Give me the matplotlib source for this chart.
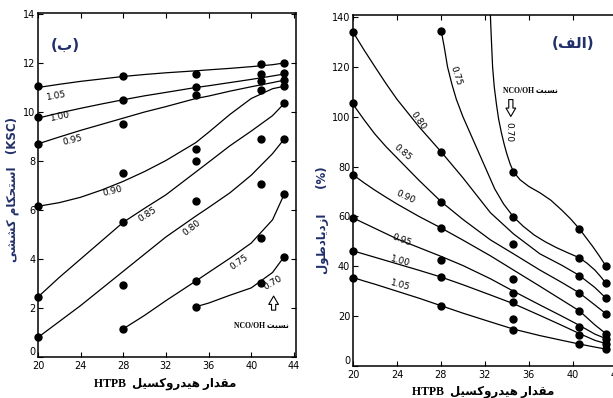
import numpy as np
import matplotlib.pyplot as plt

# --- simple Persian shaping (matplotlib has no complex text layout) ---
FORMS = {
    'ا': ('\uFE8D', '\uFE8E', None, None),
    'ب': ('\uFE8F', '\uFE90', '\uFE91', '\uFE92'),
    'ت': ('\uFE95', '\uFE96', '\uFE97', '\uFE98'),
    'ح': ('\uFEA1', '\uFEA2', '\uFEA3', '\uFEA4'),
    'د': ('\uFEA9', '\uFEAA', None, None),
    'ر': ('\uFEAD', '\uFEAE', None, None),
    'ز': ('\uFEAF', '\uFEB0', None, None),
    'س': ('\uFEB1', '\uFEB2', '\uFEB3', '\uFEB4'),
    'ش': ('\uFEB5', '\uFEB6', '\uFEB7', '\uFEB8'),
    'ط': ('\uFEC1', '\uFEC2', '\uFEC3', '\uFEC4'),
    'ف': ('\uFED1', '\uFED2', '\uFED3', '\uFED4'),
    'ق': ('\uFED5', '\uFED6', '\uFED7', '\uFED8'),
    'ل': ('\uFEDD', '\uFEDE', '\uFEDF', '\uFEE0'),
    'م': ('\uFEE1', '\uFEE2', '\uFEE3', '\uFEE4'),
    'ن': ('\uFEE5', '\uFEE6', '\uFEE7', '\uFEE8'),
    'ه': ('\uFEE9', '\uFEEA', '\uFEEB', '\uFEEC'),
    'و': ('\uFEED', '\uFEEE', None, None),
    'ی': ('\uFBFC', '\uFBFD', '\uFBFE', '\uFBFF'),
    'ک': ('\uFB8E', '\uFB8F', '\uFB90', '\uFB91'),
}


def shape(word):
    out = []
    for i, c in enumerate(word):
        if c not in FORMS:
            out.append(c)
            continue
        prev = word[i - 1] if i > 0 else None
        nxt = word[i + 1] if i + 1 < len(word) else None
        jp = prev in FORMS and FORMS[prev][2] is not None
        jn = FORMS[c][2] is not None and nxt in FORMS
        iso, fin, ini, med = FORMS[c]
        if jp and jn:
            out.append(med)
        elif jp:
            out.append(fin)
        elif jn:
            out.append(ini)
        else:
            out.append(iso)
    return ''.join(out)


def fa(s):
    return shape(s)[::-1]


# ---------------- data: left panel (tensile strength, KSC) ----------------
ratios = ['1.05', '1.00', '0.95', '0.90', '0.85', '0.80', '0.75', '0.70']

left_grid = [20, 22, 24, 26, 28, 30, 32, 34.8, 36, 38, 40, 42, 43.1]
L_105 = [11.0, 11.13, 11.25, 11.35, 11.45, 11.53, 11.6, 11.68, 11.72, 11.78, 11.85, 11.93, 12.0]
L_100 = [9.75, 9.96, 10.15, 10.33, 10.5, 10.66, 10.8, 11.0, 11.07, 11.2, 11.33, 11.47, 11.55]
L_095 = [8.7, 8.98, 9.25, 9.5, 9.75, 10.0, 10.22, 10.55, 10.65, 10.85, 11.03, 11.2, 11.3]
L_090 = [6.15, 6.3, 6.52, 6.82, 7.17, 7.57, 8.02, 8.75, 9.17, 9.9, 10.55, 10.95, 11.05]
L_085 = [2.45, 3.25, 4.0, 4.75, 5.5, 6.07, 6.62, 7.55, 7.95, 8.62, 9.22, 9.85, 10.35]
L_080 = [0.8, 1.45, 2.1, 2.8, 3.5, 4.2, 4.9, 5.75, 6.1, 6.7, 7.42, 8.3, 8.9]
L_075 = [None, None, None, None, 1.15, 1.7, 2.3, 3.1, 3.45, 4.03, 4.65, 5.6, 6.65]
L_070 = [None, None, None, None, None, None, None, 2.05, 2.2, 2.52, 2.82, 3.45, 4.1]

left_dot_x = [20, 28, 34.8, 40.9, 43.1]
left_dots_20 = [11.05, 9.78, 8.7, 6.15, 2.45, 0.8]
left_dots_28 = [11.45, 10.5, 9.5, 7.5, 5.5, 2.95, 1.15]
left_dots_35 = [11.55, 11.0, 10.7, 8.5, 8.0, 6.35, 3.1, 2.05]
left_dots_41 = [11.95, 11.55, 11.25, 10.9, 8.9, 7.05, 4.85, 3.0]
left_dots_43 = [12.0, 11.6, 11.3, 11.05, 10.35, 8.9, 6.65, 4.1]

# ---------------- data: right panel (elongation, %) ----------------
right_grid = [20, 21, 22, 23, 24, 26, 28, 30, 32.5, 34.6, 37, 39, 40.6, 42, 43]
R_105 = [35.5, 34.1, 32.8, 31.4, 30.0, 27.2, 24.2, 21.2, 17.7, 14.8, 12.2, 10.3, 8.8, 7.6, 6.8]
R_100 = [46.2, 44.9, 43.6, 42.3, 41.0, 38.4, 35.7, 32.6, 28.5, 25.0, 20.3, 16.3, 13.0, 10.3, 9.0]
R_095 = [59.4, 57.3, 55.2, 53.1, 51.0, 47.5, 44.0, 40.3, 35.0, 30.0, 24.5, 20.0, 16.3, 12.8, 11.0]
R_090 = [76.7, 73.5, 70.5, 67.7, 65.0, 60.0, 55.4, 50.5, 44.2, 38.5, 32.0, 26.5, 22.1, 16.5, 13.0]
R_085 = [105, 98.8, 93, 88.0, 83.5, 74.5, 66.0, 58.8, 50.6, 45.0, 38.5, 33.5, 29.3, 24.5, 21.0]
R_080 = [134, 126.8, 120, 113.3, 107, 96, 86, 75.5, 61.5, 53.0, 45.0, 40.4, 36.3, 31.5, 27.3]
R_075_x = [28, 28.3, 28.6, 29.0, 29.4, 30.0, 30.6, 31.2, 31.8, 32.4, 32.9, 33.7, 34.6,
           35.5, 36.5, 37.5, 38.5, 39.5, 40.6, 41.3, 42, 42.5, 43]
R_075 = [135, 128, 120, 113, 107, 100, 94, 88, 82, 76, 71, 65, 59.8,
         56, 52.5, 49.8, 47.5, 45.5, 43.4, 41.2, 38.5, 36, 33.3]
R_070_x = [32.5, 32.55, 32.62, 32.7, 32.85, 33.05, 33.25, 33.5, 33.75, 34.0, 34.3, 34.6,
           35.2, 36, 37, 38, 39, 39.8, 40.6, 41.2, 41.8, 42.4, 43]
R_070 = [140.8, 135, 128, 120, 112, 105, 99, 93.6, 89, 85, 81, 77.9,
         74.7, 72, 69.5, 66.5, 62.5, 59, 55, 51.5, 48, 44.2, 40.2]

right_dot_x = [20, 28, 34.6, 40.6, 43]
right_dots_20 = [134, 105.5, 76.7, 59.4, 46.2, 35.5]
right_dots_28 = [134.5, 86, 65.9, 55.4, 42.6, 35.7, 24.1]
right_dots_35 = [77.9, 59.8, 48.9, 34.9, 29.3, 25.5, 18.9, 14.5]
right_dots_41 = [55, 43.4, 36.1, 29.3, 22.1, 15.7, 12.4, 8.8]
right_dots_43 = [40.2, 33.3, 27.3, 20.9, 13.0, 11.0, 9.0, 6.8]

navy = '#22306a'
lab_font = ['Liberation Serif', 'DejaVu Sans']

fig = plt.figure(figsize=(6.13, 3.98), dpi=100)
axL = fig.add_axes([38 / 613, 41 / 398, 258 / 613, 344 / 398])
axR = fig.add_axes([353 / 613, 32 / 398, 266 / 613, 351 / 398])


def style(ax):
    for s in ax.spines.values():
        s.set_linewidth(1.1)
    ax.tick_params(direction='in', length=3.5, width=0.8, top=True, right=True,
                   labelsize=7)
    ax.tick_params(axis='x', pad=3)
    ax.tick_params(axis='y', pad=2)
    # the "0" label sits a little above the corner, as in the scan
    ax.yaxis.get_major_ticks()[0].label1.set_verticalalignment('bottom')


def curve(ax, x, y):
    y = np.array([np.nan if v is None else v for v in y], dtype=float)
    ax.plot(x, y, color='black', lw=0.9, solid_joinstyle='round')


def dots(ax, xs, groups):
    for x, g in zip(xs, groups):
        ax.plot([x] * len(g), g, 'o', color='black', ms=5, clip_on=False, zorder=5)


# left panel
for yy in [L_105, L_100, L_095, L_090, L_085, L_080, L_075, L_070]:
    curve(axL, left_grid, yy)
dots(axL, left_dot_x, [left_dots_20, left_dots_28, left_dots_35, left_dots_41, left_dots_43])
axL.set_xlim(20, 44.2)
axL.set_ylim(0, 14.04)
axL.set_xticks([20, 24, 28, 32, 36, 40, 44])
axL.set_yticks(range(0, 15, 2))
style(axL)

left_lab_pos = [(21.7, 10.65, 10), (22.1, 9.8, 12), (23.2, 8.86, 14), (27.0, 6.78, 14),
                (30.3, 5.8, 33), (34.4, 5.27, 38), (38.9, 3.88, 35), (42.0, 3.02, 30)]
for r, (x, y, rot) in zip(ratios, left_lab_pos):
    axL.text(x, y, r, fontsize=6.5, rotation=rot, ha='center', va='center')

axL.text(22.6, 12.7, '(' + fa('ب') + ')', fontsize=11, fontweight='bold', color=navy,
         ha='center', va='center')
axL.text(41.0, 1.3, 'NCO/OH ' + fa('نسبت'), fontsize=5.5, fontweight='bold',
         family=lab_font, ha='center', va='center')
axL.annotate('', xy=(42.1, 2.6), xytext=(42.1, 1.8),
             arrowprops=dict(arrowstyle='simple,head_width=0.7,head_length=0.6,tail_width=0.3',
                             fc='white', ec='black', lw=0.8))

# right panel
for yy in [R_105, R_100, R_095, R_090, R_085, R_080]:
    curve(axR, right_grid, yy)
curve(axR, R_075_x, R_075)
curve(axR, R_070_x, R_070)
dots(axR, right_dot_x, [right_dots_20, right_dots_28, right_dots_35, right_dots_41, right_dots_43])
axR.set_xlim(20, 44.2)
axR.set_ylim(0, 140.8)
axR.set_xticks([20, 24, 28, 32, 36, 40, 44])
axR.set_yticks(range(0, 141, 20))
style(axR)

right_lab_pos = [(24.3, 32.5, -15), (24.3, 42.2, -15), (24.45, 50.6, -20), (24.8, 67.9, -25),
                 (24.5, 85.5, -40), (25.9, 98.4, -55), (29.4, 116.5, -72), (34.2, 94.0, -90)]
for r, (x, y, rot) in zip(ratios, right_lab_pos):
    axR.text(x, y, r, fontsize=6.5, rotation=rot, ha='center', va='center')

axR.text(40.0, 129.3, '(' + fa('الف') + ')', fontsize=11, fontweight='bold', color=navy,
         ha='center', va='center')
axR.text(36.1, 110.8, 'NCO/OH ' + fa('نسبت'), fontsize=5.5, fontweight='bold',
         family=lab_font, ha='center', va='center')
axR.annotate('', xy=(34.36, 99), xytext=(34.36, 108),
             arrowprops=dict(arrowstyle='simple,head_width=0.7,head_length=0.6,tail_width=0.3',
                             fc='white', ec='black', lw=0.8))

# axis titles
fig.text(12 / 613, 1 - 190 / 398, fa('استحکام کششی') + '   (KSC)', rotation=90,
         fontsize=8.5, fontweight='bold', color=navy, ha='center', va='center')
fig.text(322 / 613, 1 - 220 / 398, fa('ازدیادطول') + '      (%)', rotation=90,
         fontsize=8.5, fontweight='bold', color=navy, ha='center', va='center')
fig.text(165 / 613, 1 - 384 / 398, 'HTPB  ' + fa('مقدار هیدروکسیل'), family=lab_font,
         fontsize=8.5, fontweight='bold', ha='center', va='center')
fig.text(483 / 613, 1 - 392 / 398, 'HTPB  ' + fa('مقدار هیدروکسیل'), family=lab_font,
         fontsize=8.5, fontweight='bold', ha='center', va='center')

fig.savefig('out.png', dpi=100)
